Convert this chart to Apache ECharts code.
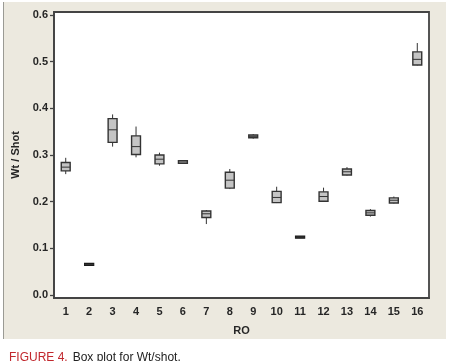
<!DOCTYPE html>
<html>
<head>
<meta charset="utf-8">
<script src="https://cdn.jsdelivr.net/npm/echarts@6/dist/echarts.min.js"></script>
<style>
html,body{margin:0;padding:0;background:#fff;}
#c{width:450px;height:361px;}
</style>
</head>
<body>
<div id="c"></div>
<script>
// Data
var categories = ['1','2','3','4','5','6','7','8','9','10','11','12','13','14','15','16'];
var lowWhisker = [0.259, 0.064, 0.318, 0.295, 0.277, 0.281, 0.152, 0.227, 0.335, 0.197, 0.122, 0.200, 0.256, 0.168, 0.196, 0.492];
var q1Values   = [0.266, 0.065, 0.327, 0.301, 0.281, 0.282, 0.166, 0.229, 0.337, 0.198, 0.123, 0.201, 0.257, 0.171, 0.197, 0.493];
var medians    = [0.274, 0.0655, 0.354, 0.318, 0.291, 0.285, 0.174, 0.246, 0.340, 0.209, 0.124, 0.211, 0.264, 0.176, 0.203, 0.505];
var q3Values   = [0.284, 0.066, 0.378, 0.341, 0.300, 0.288, 0.180, 0.263, 0.343, 0.222, 0.125, 0.221, 0.270, 0.181, 0.208, 0.521];
var highWhisker= [0.294, 0.067, 0.387, 0.361, 0.305, 0.289, 0.182, 0.270, 0.345, 0.232, 0.126, 0.230, 0.274, 0.184, 0.211, 0.540];
var yTicks = [0, 0.1, 0.2, 0.3, 0.4, 0.5, 0.6];

var boxData = categories.map(function (c, i) {
  return [i, lowWhisker[i], q1Values[i], medians[i], q3Values[i], highWhisker[i]];
});

var chart = echarts.init(document.getElementById('c'), null, {renderer: 'canvas'});
var labelColor = '#262626';
var lineColor = '#333333';

function renderBox(params, api) {
  var idx = api.value(0);
  var pLow = api.coord([idx, api.value(1)]);
  var pQ1 = api.coord([idx, api.value(2)]);
  var pMed = api.coord([idx, api.value(3)]);
  var pQ3 = api.coord([idx, api.value(4)]);
  var pHigh = api.coord([idx, api.value(5)]);
  var w = api.size([1, 0])[0] * 0.38;
  var x = pMed[0];
  var rawH = pQ1[1] - pQ3[1];
  var flat = rawH < 2;
  var h = flat ? 2 : rawH;
  var top = flat ? pMed[1] - 1 : pQ3[1];
  return {
    type: 'group',
    children: [
      {type: 'line', shape: {x1: x, y1: pHigh[1], x2: x, y2: pQ3[1]}, style: {stroke: lineColor, lineWidth: 1}},
      {type: 'line', shape: {x1: x, y1: pQ1[1], x2: x, y2: pLow[1]}, style: {stroke: lineColor, lineWidth: 1}},
      {type: 'rect', shape: {x: x - w / 2, y: top, width: w, height: h},
        style: {fill: flat ? '#1a1a1a' : '#c4c4c4', stroke: flat ? '#1a1a1a' : lineColor, lineWidth: 1.4}},
      {type: 'line', shape: {x1: x - w / 2, y1: pMed[1], x2: x + w / 2, y2: pMed[1]}, style: {stroke: lineColor, lineWidth: 1}}
    ]
  };
}

var option = {
  backgroundColor: '#ffffff',
  animation: false,
  title: {
    left: 4,
    top: 344,
    text: '{a|FIGURE 4.} {b|Box plot for Wt/shot.}',
    textStyle: {
      rich: {
        a: {color: '#c1272d', fontSize: 12, fontFamily: 'Liberation Sans', fontWeight: 'normal'},
        b: {color: '#222222', fontSize: 12, fontFamily: 'Liberation Sans', fontWeight: 'normal'}
      }
    }
  },
  graphic: [
    {type: 'rect', z: -100, shape: {x: 3, y: 2, width: 443, height: 337}, style: {fill: '#ece9df', stroke: null}},
    {type: 'line', z: -99, shape: {x1: 3.5, y1: 2, x2: 3.5, y2: 339}, style: {stroke: '#9a9a94', lineWidth: 1}}
  ],
  grid: {
    left: 54, right: 21, top: 12, bottom: 63,
    show: true, backgroundColor: '#ffffff', borderColor: '#444444', borderWidth: 1.8
  },
  xAxis: {
    type: 'category',
    data: categories,
    boundaryGap: true,
    name: 'RO',
    nameLocation: 'middle',
    nameGap: 27,
    nameTextStyle: {color: labelColor, fontSize: 11, fontWeight: 'bold', fontFamily: 'Liberation Sans'},
    axisLine: {onZero: false, lineStyle: {color: '#444444', width: 1.8}},
    axisTick: {alignWithLabel: true, length: 4, lineStyle: {color: '#444444', width: 1.3}},
    axisLabel: {color: labelColor, fontSize: 11, fontWeight: 'bold', fontFamily: 'Liberation Sans', margin: 8},
    splitLine: {show: false}
  },
  yAxis: {
    type: 'value',
    min: -0.0065,
    max: 0.6065,
    name: 'Wt / Shot',
    nameLocation: 'middle',
    nameGap: 29,
    nameRotate: 90,
    nameTextStyle: {color: labelColor, fontSize: 11, fontWeight: 'bold', fontFamily: 'Liberation Sans'},
    axisLine: {show: true, onZero: false, lineStyle: {color: '#444444', width: 1.8}},
    axisTick: {show: true, length: 4, customValues: yTicks, lineStyle: {color: '#444444', width: 1.3}},
    axisLabel: {
      customValues: yTicks,
      color: labelColor, fontSize: 11, fontWeight: 'bold', fontFamily: 'Liberation Sans', margin: 6,
      formatter: function (v) { return v.toFixed(1); }
    },
    splitLine: {show: false}
  },
  series: [{
    type: 'custom',
    renderItem: renderBox,
    encode: {x: 0, y: [1, 2, 3, 4, 5]},
    data: boxData
  }]
};
chart.setOption(option);
</script>
</body>
</html>
